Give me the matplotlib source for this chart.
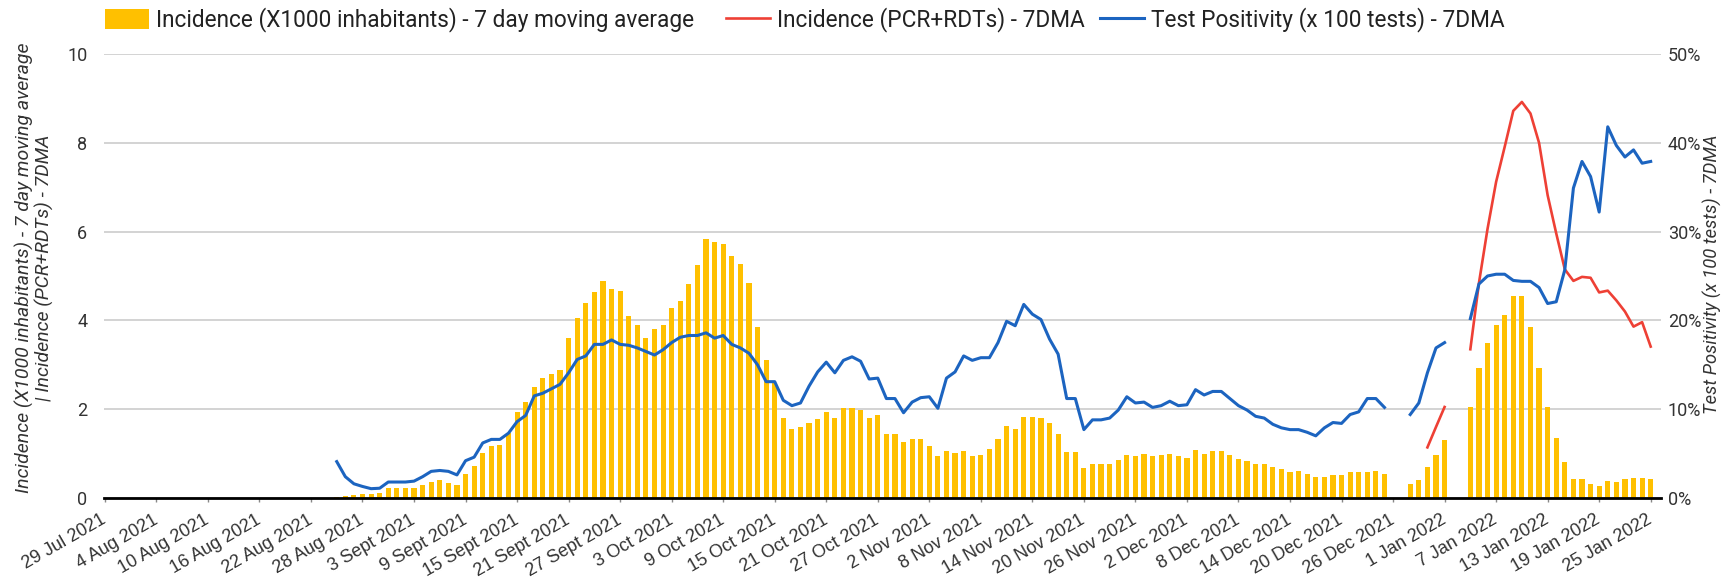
import numpy as np
import pandas as pd
import matplotlib
matplotlib.use("Agg")
import matplotlib.pyplot as plt
import matplotlib.dates as mdates
from matplotlib.patches import Patch
from matplotlib.lines import Line2D

plt.rcParams['font.family'] = ['Roboto', 'DejaVu Sans']

nan = np.nan

# daily values from 25 Aug 2021 to 25 Jan 2022
dates = pd.date_range('2021-08-25', '2022-01-25', freq='D')

# Incidence (X1000 inhabitants) - 7 day moving average
incidence = [
    0.03, 0.05, 0.06, 0.08, 0.08, 0.12, 0.22, 0.22, 0.22, 0.22, 0.30, 0.37,
    0.40, 0.34, 0.30, 0.55, 0.73, 1.01, 1.16, 1.19, 1.46, 1.94, 2.16, 2.49,
    2.70, 2.80, 2.88, 3.60, 4.06, 4.39, 4.64, 4.89, 4.71, 4.67, 4.10, 3.89,
    3.60, 3.81, 3.89, 4.28, 4.43, 4.82, 5.25, 5.83, 5.76, 5.71, 5.46, 5.28,
    4.85, 3.85,
    3.10, 2.59, 1.81, 1.56, 1.59, 1.70, 1.77, 1.94, 1.81, 2.02, 2.02, 1.98,
    1.81, 1.88, 1.44, 1.44, 1.26, 1.33, 1.33, 1.16, 0.95, 1.05, 1.01, 1.05,
    0.95, 0.97,
    1.11, 1.32, 1.62, 1.55, 1.83, 1.83, 1.80, 1.68, 1.44, 1.04, 1.04, 0.67,
    0.76, 0.76, 0.76, 0.86, 0.97, 0.94, 1.00, 0.94, 0.97, 1.00, 0.94, 0.90,
    1.08, 1.00,
    1.05, 1.05, 0.97, 0.88, 0.83, 0.76, 0.76, 0.69, 0.66, 0.58, 0.61, 0.55,
    0.47, 0.47, 0.51, 0.51, 0.58, 0.58, 0.58, 0.61, 0.55,
    nan, nan,
    0.32, 0.40, 0.69, 0.97, 1.30,
    nan, nan,
    2.05, 2.92, 3.50, 3.89, 4.12, 4.54, 4.54, 3.86, 2.92, 2.05, 1.36, 0.82,
    0.43, 0.43, 0.32, 0.28, 0.39, 0.36, 0.43, 0.46, 0.46, 0.43,
]

# Test Positivity (x 100 tests) - 7DMA, in %
positivity = [
    4.1, 2.4, 1.6, 1.3, 1.05, 1.1, 1.8, 1.8, 1.8, 1.9, 2.4, 3.0,
    3.1, 3.0, 2.6, 4.2, 4.6, 6.2, 6.6, 6.6, 7.3, 8.6, 9.3, 11.5,
    11.8, 12.3, 12.8, 14.1, 15.6, 16.0, 17.3, 17.3, 17.8, 17.3, 17.2, 16.9,
    16.5, 16.1, 16.7, 17.5, 18.1, 18.3, 18.3, 18.6, 18.0, 18.3, 17.3, 16.9,
    16.3, 15.0,
    13.1, 13.1, 11.0, 10.4, 10.7, 12.6, 14.2, 15.3, 14.1, 15.5, 15.9, 15.4,
    13.4, 13.5, 11.2, 11.2, 9.6, 10.8, 11.3, 11.4, 10.1, 13.5, 14.2, 16.0,
    15.5, 15.8,
    15.8, 17.5, 19.9, 19.4, 21.8, 20.7, 20.1, 17.9, 16.2, 11.2, 11.2, 7.7,
    8.8, 8.8, 9.0, 9.9, 11.4, 10.7, 10.8, 10.2, 10.4, 10.9, 10.4, 10.5,
    12.2, 11.6,
    12.0, 12.0, 11.2, 10.4, 9.9, 9.2, 9.0, 8.3, 7.9, 7.7, 7.7, 7.4,
    7.0, 7.9, 8.5, 8.4, 9.4, 9.7, 11.2, 11.2, 10.2,
    nan, nan,
    9.4, 10.7, 14.1, 16.9, 17.5,
    nan, nan,
    20.2, 24.1, 25.0, 25.2, 25.2, 24.5, 24.4, 24.4, 23.7, 21.9, 22.1, 25.7,
    34.9, 37.9, 36.2, 32.2, 41.8, 39.7, 38.4, 39.2, 37.7, 37.9,
]

# Incidence (PCR+RDTs) - 7DMA, from 30 Dec 2021
pcr_dates = pd.date_range('2021-12-30', '2022-01-25', freq='D')
pcr_incidence = [
    1.14, 1.60, 2.05, nan, nan,
    3.35, 4.84, 6.06, 7.12, 7.91, 8.72, 8.92, 8.66, 8.00, 6.82, 5.96, 5.15,
    4.89, 4.98, 4.96, 4.63, 4.67, 4.45, 4.20, 3.86, 3.96, 3.41,
]

tick_dates = pd.date_range('2021-07-29', '2022-01-25', freq='6D')
tick_labels = [
    '29 Jul 2021', '4 Aug 2021', '10 Aug 2021', '16 Aug 2021', '22 Aug 2021',
    '28 Aug 2021', '3 Sept 2021', '9 Sept 2021', '15 Sept 2021', '21 Sept 2021',
    '27 Sept 2021', '3 Oct 2021', '9 Oct 2021', '15 Oct 2021', '21 Oct 2021',
    '27 Oct 2021', '2 Nov 2021', '8 Nov 2021', '14 Nov 2021', '20 Nov 2021',
    '26 Nov 2021', '2 Dec 2021', '8 Dec 2021', '14 Dec 2021', '20 Dec 2021',
    '26 Dec 2021', '1 Jan 2022', '7 Jan 2022', '13 Jan 2022', '19 Jan 2022',
    '25 Jan 2022',
]

BAR = '#ffc000'
RED = '#ee4035'
BLUE = '#1c64c0'
TXT = '#333333'

fig = plt.figure(figsize=(17.24, 5.77), dpi=100)
ax = fig.add_axes([104 / 1724, 1 - 498 / 577, 1557 / 1724, 444 / 577])
ax2 = ax.twinx()

x = mdates.date2num(dates)
ax.bar(x, incidence, width=0.6, color=BAR, zorder=2)
ax.plot(mdates.date2num(pcr_dates), pcr_incidence, color=RED, lw=1.9, zorder=3)
ax2.plot(x, positivity, color=BLUE, lw=2.2, zorder=3)

ax.set_ylim(0, 10)
ax2.set_ylim(0, 50)
ax.set_yticks(range(0, 11, 2))
ax2.set_yticks(range(0, 51, 10))
ax2.set_yticklabels([f'{v}%' for v in range(0, 51, 10)])
ax.set_xlim(mdates.date2num(tick_dates[0]) - 0.1, mdates.date2num(tick_dates[-1]) + 1.2)
ax.set_xticks(mdates.date2num(tick_dates))
ax.set_xticklabels(tick_labels, rotation=30, ha='right', va='center',
                   rotation_mode='anchor', family=['Liberation Sans', 'DejaVu Sans'])

ax.grid(axis='y', color='#cccccc', lw=1.2, zorder=0)
ax.set_axisbelow(True)
for a in (ax, ax2):
    for s in a.spines.values():
        s.set_visible(False)
ax.axhline(0, color='black', lw=2.0, zorder=5, clip_on=False)

ax.tick_params(axis='y', length=0, pad=12, labelsize=13, labelcolor=TXT)
ax2.tick_params(axis='y', length=0, pad=5, labelsize=13, labelcolor=TXT)
ax.tick_params(axis='x', length=3, width=1, color='#888888', pad=12, labelsize=13, labelcolor=TXT)

fig.text(34 / 1724, 1 - 268 / 577,
         'Incidence (X1000 inhabitants) - 7 day moving average\n| Incidence (PCR+RDTs) - 7DMA',
         rotation=90, ha='center', va='center', multialignment='center',
         fontsize=14, style='italic', color=TXT, linespacing=1.05)
fig.text(1712 / 1724, 1 - 274 / 577, 'Test Positivity (x 100 tests) - 7DMA',
         rotation=90, ha='center', va='center', fontsize=13.2, style='italic', color=TXT)

# legend: three separate entries across the top
items = [
    (Patch(facecolor=BAR, edgecolor='none'), 'Incidence (X1000 inhabitants) - 7 day moving average', 105),
    (Line2D([], [], color=RED, lw=1.9), 'Incidence (PCR+RDTs) - 7DMA', 726),
    (Line2D([], [], color=BLUE, lw=2.2), 'Test Positivity (x 100 tests) - 7DMA', 1100),
]
for h, lab, px in items:
    fig.legend(handles=[h], labels=[lab], loc='center left',
               bbox_to_anchor=(px / 1724, 1 - 20 / 577), frameon=False,
               fontsize=16.3, handlelength=1.95, handleheight=0.95,
               handletextpad=0.3, borderpad=0, borderaxespad=0, labelcolor='#222222')

fig.savefig('out.png', dpi=100)
